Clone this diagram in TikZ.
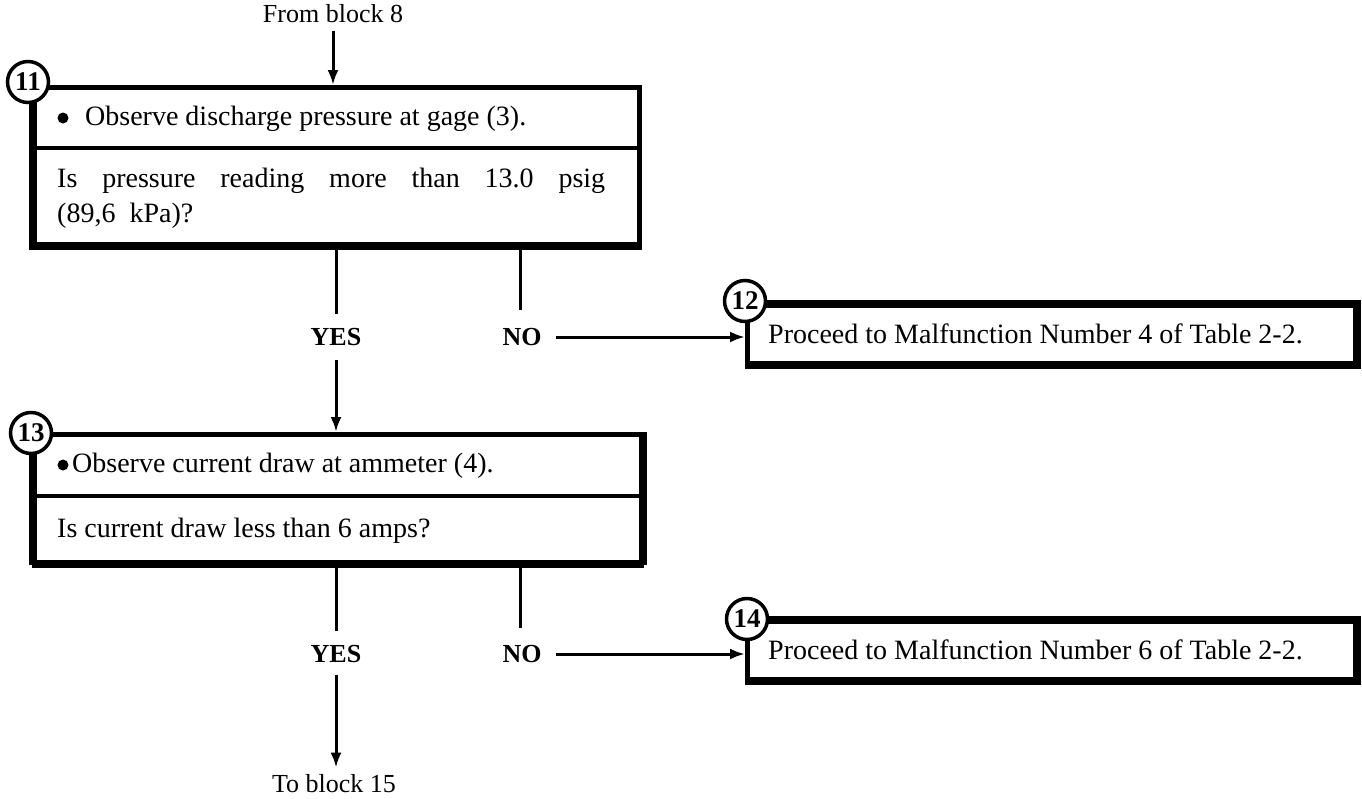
\documentclass[tikz,border=0pt]{standalone}
\usepackage{fontspec}
\setmainfont{Liberation Serif}
\usetikzlibrary{arrows.meta}
\begin{document}
\begin{tikzpicture}[x=1pt,y=-1pt,
  txt/.style={font=\fontsize{28}{35}\selectfont, inner sep=0pt, anchor=base west},
  ctr/.style={font=\fontsize{26}{30}\selectfont, inner sep=0pt},
  yn/.style={font=\fontsize{26}{30}\selectfont\bfseries, inner sep=0pt},
  box/.style={draw, line width=4.5pt, inner sep=0pt, anchor=north west},
  heavy/.style={line width=6pt},
  divider/.style={line width=4pt},
  bul/.style={circle, fill, inner sep=0pt, minimum size=11pt},
  num/.style={draw, circle, line width=3.5pt, fill=white, minimum size=41pt, inner sep=0pt, font=\fontsize{27}{27}\selectfont\bfseries},
  conn/.style={line width=3pt},
  arr/.style={line width=3pt, -{Latex[length=15pt,width=11pt]}},
]
\useasboundingbox (0,0) rectangle (1362,798);
% block 11
\node[ctr] (fb8) at (333,14) {From block 8};
\node[box, minimum width=605pt, minimum height=157pt] (b11) at (32,85) {};
\draw[heavy] (b11.north west) -- (b11.south west) -- (b11.south east);
\draw[divider] (32,148) -- (637,148);
\node[bul] (bul11) at (63,118) {};
\node[txt] (t11a) at (85,125) {Observe discharge pressure at gage (3).};
\node[txt] (t11b) at (57,187) {\makebox[548pt][s]{Is pressure reading more than 13.0 psig}};
\node[txt] (t11c) at (57,222) {(89,6\ \ kPa)?};
\node[num] (c11) at (28,82) {11};
\draw[arr, shorten <=8pt] (fb8.south) -- (fb8 |- b11.north);
% yes/no 1
\node[yn] (yes1) at (336,337) {YES};
\node[yn] (no1) at (522,337) {NO};
\coordinate (n1top) at (520,242);
\coordinate (n1bot) at (520,310);
\draw[conn, shorten >=14pt] (yes1 |- b11.south) -- (yes1.north);
\draw[conn] (n1top) -- (n1bot);
% block 12
\node[box, minimum width=608pt, minimum height=58pt] (b12) at (745,303) {};
\draw[heavy] (b12.north west) -- (b12.north east) -- (b12.south east) -- (b12.south west);
\node[txt] (t12) at (768,343) {Proceed to Malfunction Number 4 of Table 2-2.};
\node[num] (c12) at (745,301) {12};
\draw[arr, shorten <=14pt] (no1.east) -- (no1.east -| b12.west);
% block 13
\node[box, minimum width=607pt, minimum height=128pt] (b13) at (32,432) {};
\draw[heavy] (b13.north west) -- (b13.south west);
\draw[heavy] (b13.south west) -- (b13.south east);
\draw[heavy] (b13.north east) -- (b13.south east);
\draw[divider] (32,496) -- (639,496);
\node[bul] (bul13) at (63,465) {};
\node[txt] (t13a) at (72,472) {Observe current draw at ammeter (4).};
\node[txt] (t13b) at (57,537) {Is current draw less than 6 amps?};
\node[num] (c13) at (31,433) {13};
\draw[arr, shorten <=14pt] (yes1.south) -- (yes1 |- b13.north);
% yes/no 2
\node[yn] (yes2) at (336,654) {YES};
\node[yn] (no2) at (522,654) {NO};
\coordinate (n2top) at (520,560);
\coordinate (n2bot) at (520,628);
\draw[conn, shorten >=14pt] (yes2 |- b13.south) -- (yes2.north);
\draw[conn] (n2top) -- (n2bot);
% block 14
\node[box, minimum width=608pt, minimum height=58pt] (b14) at (745,619) {};
\draw[heavy] (b14.north west) -- (b14.north east) -- (b14.south east) -- (b14.south west);
\node[txt] (t14) at (768,659) {Proceed to Malfunction Number 6 of Table 2-2.};
\node[num] (c14) at (747,619) {14};
\draw[arr, shorten <=14pt] (no2.east) -- (no2.east -| b14.west);
% to block 15
\node[ctr] (tb15) at (334,784) {To block 15};
\draw[arr, shorten <=12pt, shorten >=7pt] (yes2.south) -- (yes2 |- tb15.north);
\end{tikzpicture}
\end{document}
